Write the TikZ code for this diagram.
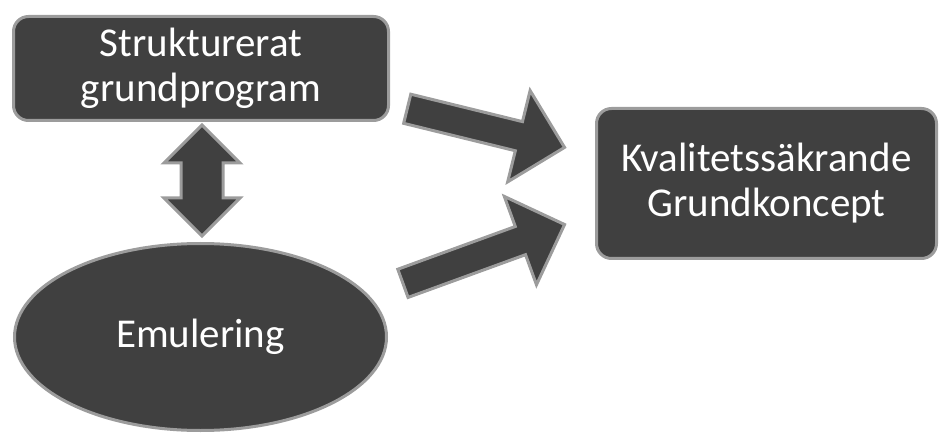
\documentclass[tikz,border=0pt]{standalone}
\usepackage{fontspec}
\setmainfont{Carlito}
\usepackage{xcolor}
\usepackage{tikz}
\usetikzlibrary{shapes,shapes.geometric,shapes.arrows,positioning}
\definecolor{boxgray}{HTML}{404040}
\definecolor{edgegray}{HTML}{9C9C9C}

\begin{document}
\begin{tikzpicture}[x=1pt,y=-1pt,
  box/.style={draw=edgegray,fill=boxgray,line width=3pt,rounded corners=15pt,align=center,text=white,font=\fontsize{41}{45}\selectfont},
  oval/.style={ellipse,draw=edgegray,fill=boxgray,line width=3pt,inner sep=0pt,text=white,font=\fontsize{41}{45}\selectfont},
  blockarrow/.style={single arrow,draw=edgegray,fill=boxgray,line width=3pt,inner xsep=0pt,inner ysep=13.5pt,single arrow head extend=32pt,minimum width=0pt},
  bothways/.style={double arrow,draw=edgegray,fill=boxgray,line width=3pt,inner xsep=0pt,inner ysep=19.5pt,double arrow head extend=17pt,minimum width=0pt}
]
\useasboundingbox (0,0) rectangle (941,435);
\node[box,minimum width=375pt,minimum height=104pt] (prog) at (201,68.5) {Strukturerat\\grundprogram};
\node[oval,minimum width=372pt,minimum height=187pt] (emu) at (200.5,337) {Emulering};
\node[box,minimum width=340pt,minimum height=150pt] (koncept) at (766.5,183.5) {Kvalitetssäkrande\\Grundkoncept};
% block arrows
\node[bothways,rotate=90,minimum height=111pt] (link) at (202,180.5) {};
\node[blockarrow,rotate=-13.8,minimum height=162pt] (toptill) at (478.6,126.3) {};
\node[blockarrow,rotate=20,minimum height=172pt] (bottill) at (476.7,256.5) {};
\end{tikzpicture}
\end{document}
